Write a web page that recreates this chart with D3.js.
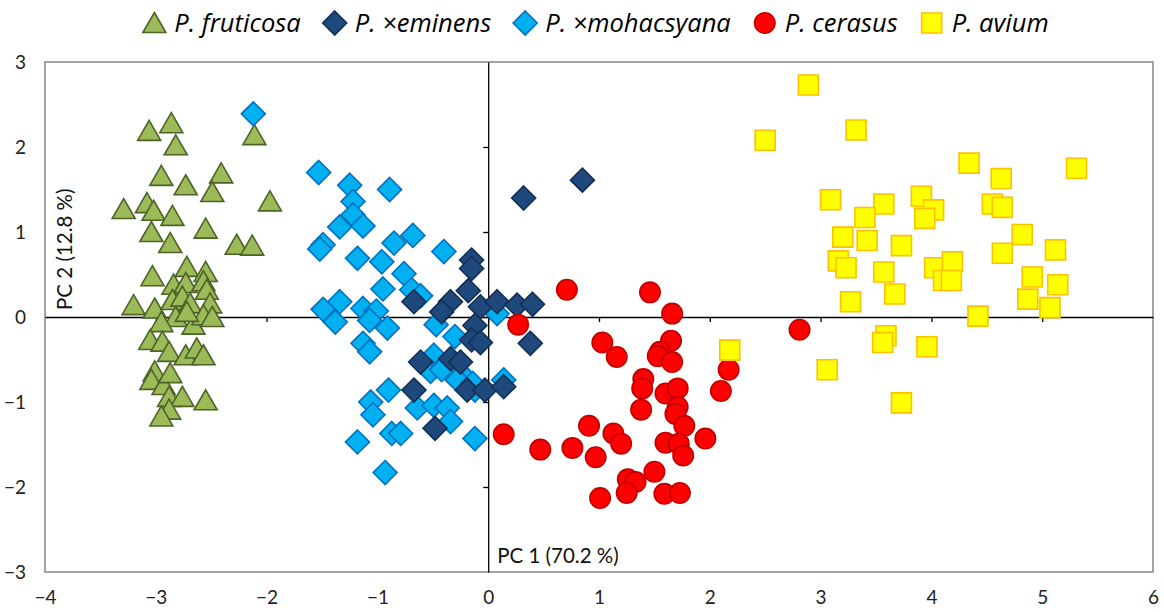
<!DOCTYPE html>
<html><head><meta charset="utf-8">
<script src="https://cdn.jsdelivr.net/npm/d3@7"></script>
<style>body{margin:0;background:#fff}svg{display:block}</style>
</head><body><svg id="c" width="1164" height="612"></svg>
<script>
const xTicks = [-4,-3,-2,-1,0,1,2,3,4,5,6];
const yTicks = [-3,-2,-1,0,1,2,3];
const xTitle = "PC 1 (70.2 %)";
const yTitle = "PC 2 (12.8 %)";
const seriesNames = ["P. fruticosa","P. \u00d7eminens","P. \u00d7mohacsyana","P. cerasus","P. avium"];

const fruticosa = [[-2.86,2.28],[-3.06,2.19],[-2.82,2.02],[-2.11,2.14],[-2.95,1.66],[-2.41,1.69],[-2.73,1.55],[-2.49,1.47],[-1.97,1.36],[-3.29,1.27],[-3.08,1.34],[-3.02,1.25],[-2.85,1.19],[-3.04,1.00],[-2.55,1.04],[-2.87,0.87],[-2.27,0.85],[-2.13,0.84],[-3.03,0.48],[-2.72,0.59],[-2.55,0.53],[-2.84,0.38],[-2.73,0.40],[-2.57,0.42],[-2.54,0.32],[-3.20,0.14],[-3.01,0.10],[-2.85,0.20],[-2.76,0.24],[-2.69,0.16],[-2.51,0.16],[-2.82,0.00],[-2.95,-0.06],[-2.66,-0.09],[-2.57,0.02],[-2.49,0.00],[-2.72,0.06],[-3.05,-0.27],[-2.94,-0.29],[-2.88,-0.41],[-2.73,-0.45],[-2.63,-0.37],[-2.57,-0.45],[-3.01,-0.64],[-3.04,-0.74],[-2.93,-0.80],[-2.87,-0.66],[-2.88,-0.94],[-2.76,-0.94],[-2.55,-0.98],[-2.88,-1.09],[-2.95,-1.17]];

const mohacsyana = [[-2.12,2.39],[-1.53,1.70],[-1.25,1.55],[-0.89,1.50],[-1.22,1.36],[-1.22,1.20],[-1.34,1.06],[-1.13,1.07],[-0.68,0.96],[-0.85,0.87],[-1.49,0.85],[-1.52,0.80],[-0.40,0.77],[-1.18,0.69],[-0.96,0.65],[-0.76,0.51],[-0.95,0.33],[-0.69,0.32],[-0.61,0.25],[-1.34,0.18],[-1.49,0.09],[-1.38,-0.06],[-1.13,0.10],[-1.01,0.07],[-1.07,-0.04],[-0.91,-0.13],[-0.47,-0.09],[-0.30,-0.23],[-1.13,-0.31],[-1.07,-0.41],[-0.49,-0.45],[-0.52,-0.64],[-0.40,-0.58],[-0.25,-0.66],[-0.12,-0.86],[-0.90,-0.86],[-1.06,-1.00],[-1.04,-1.15],[-0.64,-1.07],[-0.49,-1.04],[-0.37,-1.07],[-0.34,-1.23],[-0.87,-1.37],[-0.79,-1.37],[-1.18,-1.47],[-0.12,-1.43],[-0.93,-1.83],[0.14,-0.74],[0.08,0.04],[-0.28,-0.74],[-0.14,-0.78],[-0.42,-0.62]];

const eminens = [[0.32,1.40],[0.85,1.61],[-0.15,0.67],[-0.15,0.57],[-0.18,0.31],[-0.34,0.18],[-0.42,0.06],[-0.07,0.12],[0.08,0.18],[0.26,0.14],[0.40,0.15],[-0.67,0.18],[-0.12,-0.10],[-0.15,-0.27],[-0.07,-0.30],[0.38,-0.31],[-0.61,-0.53],[-0.34,-0.49],[-0.25,-0.53],[-0.67,-0.86],[-0.19,-0.86],[-0.03,-0.86],[0.14,-0.82],[-0.48,-1.31]];

const cerasus = [[0.71,0.32],[1.46,0.29],[1.66,0.04],[0.27,-0.09],[1.03,-0.30],[1.16,-0.47],[1.65,-0.28],[1.55,-0.41],[1.53,-0.46],[1.66,-0.53],[2.17,-0.62],[1.40,-0.73],[1.39,-0.84],[1.60,-0.90],[1.71,-0.84],[2.10,-0.87],[1.71,-1.06],[1.38,-1.09],[1.69,-1.14],[1.77,-1.28],[0.91,-1.28],[0.14,-1.38],[1.13,-1.37],[1.20,-1.49],[1.60,-1.48],[1.72,-1.49],[1.96,-1.43],[0.47,-1.56],[0.76,-1.54],[0.97,-1.65],[1.76,-1.63],[1.50,-1.82],[1.26,-1.91],[1.33,-1.94],[1.25,-2.07],[1.01,-2.13],[1.59,-2.08],[1.73,-2.07],[2.81,-0.15]];

const avium = [[2.89,2.73],[2.50,2.08],[3.32,2.20],[4.34,1.81],[5.31,1.75],[4.63,1.63],[3.09,1.38],[3.57,1.33],[3.91,1.42],[4.02,1.26],[3.94,1.16],[4.55,1.33],[4.64,1.29],[3.40,1.17],[3.20,0.94],[3.42,0.90],[3.73,0.84],[4.82,0.97],[5.12,0.79],[4.64,0.75],[3.16,0.66],[3.23,0.58],[3.57,0.53],[4.03,0.58],[4.19,0.65],[4.11,0.43],[4.18,0.43],[4.91,0.47],[5.14,0.38],[3.67,0.27],[3.27,0.18],[4.87,0.21],[5.07,0.11],[4.42,0.01],[3.59,-0.22],[3.56,-0.30],[3.96,-0.35],[2.18,-0.39],[3.06,-0.62],[3.73,-1.01]];

const seriesData = [fruticosa, eminens, mohacsyana, cerasus, avium];
const shapes = ["triangle","diamond","diamond","circle","square"];
const fills = ["#9BBB59","#1F497D","#00B0F0","#FF0000","#FFFF00"];
const strokes = ["#4F6228","#142f52","#0070C0","#C00000","#FFC000"];
const drawOrder = [0,2,1,3,4];

const svg = d3.select("#c");
const L=45,R=1153,T=62,B=572;
const x = d3.scaleLinear().domain([-4,6]).range([L,R]);
const y = d3.scaleLinear().domain([-3,3]).range([B,T]);
const font = "Lato, 'Open Sans', sans-serif";

function shapePath(s){
  if(s==="triangle") return "M0,-10.5L11.5,9.5L-11.5,9.5Z";
  if(s==="diamond") return "M0,-12L12,0L0,12L-12,0Z";
  if(s==="square") return "M-10,-10H10V10H-10Z";
  return d3.symbol(d3.symbolCircle, Math.PI*10.2*10.2)();
}

// frame
svg.append("rect").attr("x",L).attr("y",T).attr("width",R-L).attr("height",B-T)
  .attr("fill","none").attr("stroke","#868686").attr("stroke-width",1.5);

// tick labels on frame
const gy = svg.append("g").attr("transform",`translate(${L},0)`)
  .call(d3.axisLeft(y).tickValues(yTicks).tickSize(0).tickPadding(19).tickFormat(d3.format("d")));
gy.select(".domain").remove();
gy.selectAll("text").attr("font-family",font).attr("font-size",19).attr("fill","#222");
const gx = svg.append("g").attr("transform",`translate(0,${B})`)
  .call(d3.axisBottom(x).tickValues(xTicks).tickSize(0).tickPadding(19).tickFormat(d3.format("d")));
gx.select(".domain").remove();
gx.selectAll("text").attr("font-family",font).attr("font-size",19).attr("fill","#222");

// zero axes with ticks
const ax0 = svg.append("g").attr("transform",`translate(0,${y(0)})`)
  .call(d3.axisBottom(x).tickValues(xTicks.slice(1,-1)).tickSize(5).tickSizeOuter(0).tickFormat(""));
const ay0 = svg.append("g").attr("transform",`translate(${x(0)},0)`)
  .call(d3.axisLeft(y).tickValues(yTicks.slice(1,-1)).tickSize(5).tickSizeOuter(0).tickFormat(""));
[ax0,ay0].forEach(g=>{g.selectAll("path,line").attr("stroke","#000").attr("stroke-width",1.3);});

// titles
svg.append("text").attr("x",x(0)+9).attr("y",563).attr("font-family",font).attr("font-size",20.5)
  .attr("fill","#111").text(xTitle);
svg.append("text").attr("transform",`translate(${L+27},${y(0)-7}) rotate(-90)`)
  .attr("font-family",font).attr("font-size",20.5).attr("fill","#111").text(yTitle);

// points
drawOrder.forEach(i=>{
  svg.append("g").selectAll("path").data(seriesData[i]).join("path")
    .attr("d",shapePath(shapes[i]))
    .attr("transform",d=>`translate(${x(d[0])},${y(d[1])})`)
    .attr("fill",fills[i]).attr("stroke",strokes[i]).attr("stroke-width",1.6);
});

// legend
const lg = svg.append("g");
let cx = 0;
seriesNames.forEach((name,i)=>{
  const it = lg.append("g").attr("transform",`translate(${cx},0)`);
  it.append("path").attr("d",shapePath(shapes[i])).attr("transform","translate(11,23)")
    .attr("fill",fills[i]).attr("stroke",strokes[i]).attr("stroke-width",1.6);
  const t = it.append("text").attr("x",31).attr("y",32).attr("font-family","'Open Sans', Lato, sans-serif")
    .attr("font-size",25.5).attr("font-style","italic").attr("fill","#000").text(name);
  cx += 31 + t.node().getComputedTextLength() + 23;
});
const lw = cx - 23;
lg.attr("transform",`translate(${596 - lw/2},0)`);
</script></body></html>
